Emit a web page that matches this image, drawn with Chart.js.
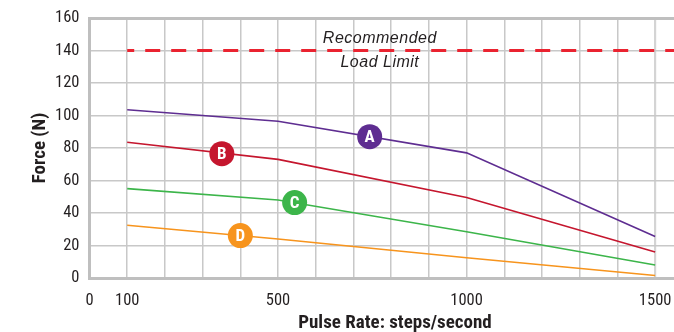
<!DOCTYPE html>
<html>
<head>
<meta charset="utf-8">
<script src="https://cdn.jsdelivr.net/npm/chart.js@4.4.1/dist/chart.umd.min.js"></script>
<style>
  html, body { margin: 0; padding: 0; background: #ffffff; }
  #wrap { width: 674px; height: 332px; }
</style>
</head>
<body>
<div id="wrap"><canvas id="c" width="674" height="332"></canvas></div>
<script>
// ---- data ----
const pulseRates = [100, 500, 1000, 1500];
const forceA = [103.5, 96.5, 77, 25.5];
const forceB = [83.5, 73, 49.5, 16];
const forceC = [55, 48, 28.5, 8];
const forceD = [32.5, 24, 12.5, 1.5];
const limitX = [100, 1550];
const limitY = [140, 140];
const curveNames = ['A', 'B', 'C', 'D'];
const markerX = [743, 351, 544, 400];
const markerY = [87, 76.5, 46.4, 26.1];
const xGridValues = [0,100,200,300,400,500,600,700,800,900,1000,1100,1200,1300,1400,1500];
const xLabelValues = [0, 100, 500, 1000, 1500];
const yTickValues = [0, 20, 40, 60, 80, 100, 120, 140, 160];
const noteLines = ['Recommended', 'Load Limit'];

// ---- styles ----
const colors = ['#5e2d91', '#c5162e', '#3cb54a', '#f7941d'];
const fam = "Roboto, 'Open Sans', sans-serif";
const txt = '#231f20';

function pts(xs, ys) { return xs.map((x, i) => ({ x: x, y: ys[i] })); }

const series = [forceA, forceB, forceC, forceD];
const lineSets = series.map((s, i) => ({
  type: 'line',
  data: pts(pulseRates, s),
  borderColor: colors[i],
  borderWidth: 1.6,
  pointRadius: 0,
  tension: 0,
  order: 2
}));

const markerPlugin = {
  id: 'markerLetters',
  afterDatasetsDraw(chart) {
    const meta = chart.getDatasetMeta(0);
    const ctx = chart.ctx;
    ctx.save();
    ctx.fillStyle = '#ffffff';
    ctx.font = "condensed bold 17px " + fam;
    ctx.textAlign = 'center';
    ctx.textBaseline = 'middle';
    meta.data.forEach((p, i) => {
      ctx.fillText(curveNames[i], p.x, p.y + 1);
    });
    ctx.restore();
  }
};

const notePlugin = {
  id: 'notes',
  afterDraw(chart) {
    const ctx = chart.ctx;
    const xs = chart.scales.x, ys = chart.scales.y;
    ctx.save();
    ctx.fillStyle = txt;
    ctx.font = "italic 16px 'Liberation Sans', Arial, sans-serif";
    try { ctx.letterSpacing = '0.5px'; } catch (e) {}
    ctx.textAlign = 'center';
    ctx.textBaseline = 'middle';
    ctx.fillText(noteLines[0], xs.getPixelForValue(770), ys.getPixelForValue(147.5));
    ctx.fillText(noteLines[1], xs.getPixelForValue(770), ys.getPixelForValue(132.5));
    try { ctx.letterSpacing = '0px'; } catch (e) {}
    // x axis title
    ctx.font = "condensed bold 19px " + fam;
    ctx.fillText('Pulse Rate: steps/second', 395, 323);
    ctx.restore();
  }
};

new Chart(document.getElementById('c'), {
  type: 'scatter',
  data: {
    datasets: [
      {
        type: 'scatter',
        data: pts(markerX, markerY),
        pointRadius: 12.5,
        pointHoverRadius: 12.5,
        pointBackgroundColor: colors,
        pointBorderWidth: 0,
        order: -1
      },
      ...lineSets,
      {
        type: 'line',
        data: pts(limitX, limitY),
        borderColor: '#ea2330',
        borderWidth: 3,
        borderDash: [15, 11],
        borderDashOffset: 8,
        pointRadius: 0,
        order: 3
      }
    ]
  },
  options: {
    responsive: false,
    animation: false,
    events: [],
    layout: { autoPadding: false, padding: { top: 18, right: 0, left: 0, bottom: 0 } },
    plugins: { legend: { display: false }, tooltip: { enabled: false } },
    scales: {
      x: {
        type: 'linear',
        min: 0,
        max: 1550,
        afterBuildTicks(scale) { scale.ticks = xGridValues.map(v => ({ value: v })); },
        afterFit(scale) { scale.height = 54; scale.paddingLeft = 0; scale.paddingRight = 0; },
        grid: {
          drawTicks: false,
          color: (c) => (c.tick && c.tick.value === 1500) ? '#d4d4d4' : '#c8c8c8',
          lineWidth: (c) => (c.tick && c.tick.value === 1500) ? 2.2 : 1.5
        },
        border: { display: true, color: '#bfbfbf', width: 3 },
        ticks: {
          autoSkip: false,
          maxRotation: 0,
          padding: 13,
          color: txt,
          font: { family: fam, size: 16.5, weight: 'condensed' },
          callback: (v) => xLabelValues.includes(v) ? String(v) : ''
        }
      },
      y: {
        min: 0,
        max: 160,
        afterBuildTicks(scale) { scale.ticks = yTickValues.map(v => ({ value: v })); },
        afterFit(scale) { scale.width = 89.5; scale.paddingTop = 0; scale.paddingBottom = 0; },
        grid: {
          drawTicks: false,
          color: (c) => (c.tick && c.tick.value === 160) ? '#bfbfbf' : '#c8c8c8',
          lineWidth: (c) => (c.tick && c.tick.value === 160) ? 3 : 1.5
        },
        border: { display: true, color: '#bfbfbf', width: 3 },
        ticks: {
          padding: 10,
          color: txt,
          font: { family: fam, size: 16.5, weight: 'condensed' }
        },
        title: {
          display: true,
          text: 'Force (N)',
          color: txt,
          font: { family: fam, size: 19, weight: 'condensed bold' },
          padding: { top: 29, bottom: 0 }
        }
      }
    }
  },
  plugins: [markerPlugin, notePlugin]
});
</script>
</body>
</html>
